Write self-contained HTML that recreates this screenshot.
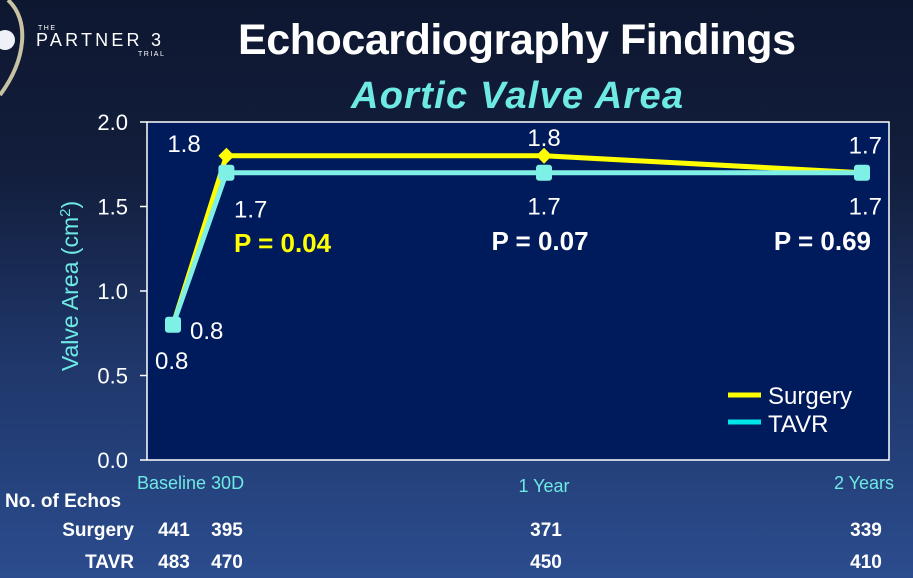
<!DOCTYPE html>
<html><head><meta charset="utf-8">
<style>
html,body{margin:0;padding:0;width:913px;height:578px;overflow:hidden;}
body{background:linear-gradient(180deg,#0e1730 0%,#121e3c 30%,#1e3567 60%,#2b4c8e 100%);font-family:"Liberation Sans",sans-serif;}
svg{position:absolute;left:0;top:0;}
</style></head>
<body>
<svg width="913" height="578">
  <g>
    <path d="M8,0 C30,20 26,60 0,95" stroke="#c8c2a4" stroke-width="4" fill="none"/>
    <circle cx="5" cy="40" r="10" fill="#eef2f8"/>
    <text x="38" y="30" fill="#fff" font-size="7" letter-spacing="1.5">THE</text>
    <text x="36" y="46" fill="#fff" font-size="18" letter-spacing="3.2">PARTNER 3</text>
    <text x="138" y="56" fill="#fff" font-size="7" letter-spacing="1.5">TRIAL</text>
  </g>
  <text x="517" y="54" text-anchor="middle" fill="#fff" font-size="43" font-weight="bold" textLength="558">Echocardiography Findings</text>
  <text x="517" y="108" text-anchor="middle" fill="#6ee9e3" font-size="38" font-weight="bold" font-style="italic" textLength="332">Aortic Valve Area</text>
  <rect x="147" y="122" width="742" height="338" fill="#001b5c" stroke="#fff" stroke-width="1.5"/>
  <g id="yaxis"></g>
  <text transform="translate(78,286) rotate(-90)" text-anchor="middle" fill="#6ee9e3" font-size="23">Valve Area (cm<tspan font-size="15" dy="-8">2</tspan><tspan dy="8">)</tspan></text>
  <g id="xlabels"></g>
  <g id="series"></g>
  <g id="labels"></g>
  <g>
    <line x1="728" y1="395" x2="761" y2="395" stroke="#ffff00" stroke-width="5"/>
    <text x="768" y="404" fill="#fff" font-size="24">Surgery</text>
    <line x1="728" y1="422" x2="761" y2="422" stroke="#00e5e8" stroke-width="5"/>
    <text x="768" y="432" fill="#fff" font-size="24">TAVR</text>
  </g>
  <g id="table" font-family="'Liberation Sans Narrow','Liberation Sans',sans-serif" font-weight="bold" fill="#fff" font-size="19"></g>
</svg>
<script>
const categories = ["Baseline","30D","1 Year","2 Years"];
const xTimes = [0, 0.155, 1.077, 2];
const surgery = [0.8, 1.8, 1.8, 1.7];
const tavr = [0.8, 1.7, 1.7, 1.7];
const yTicks = [0, 0.5, 1.0, 1.5, 2.0];
const yTickLabels = ["0.0","0.5","1.0","1.5","2.0"];
const pValues = ["P = 0.04","P  = 0.07","P = 0.69"];
const surgeryEchos = ["441","395","371","339"];
const tavrEchos = ["483","470","450","410"];
const NS="http://www.w3.org/2000/svg";
const X = t => 173 + t * 344.5;
const Y = v => 460 - v * 169;
function mk(tag, attrs, parent, txt){const e=document.createElementNS(NS,tag);for(const k in attrs)e.setAttribute(k,attrs[k]);if(txt!==undefined)e.textContent=txt;parent.appendChild(e);return e;}
const ya=document.getElementById('yaxis');
yTicks.forEach((v,i)=>{
  const l=mk('line',{x1:140,x2:147,y1:Y(v),y2:Y(v),stroke:'#fff','stroke-width':1.5},ya);
  
  
  const t=mk('text',{x:128,y:Y(v)+8,'text-anchor':'end',fill:'#fff','font-size':22},ya,yTickLabels[i]);
  
  
});
const xl=document.getElementById('xlabels');
const xlab=[["Baseline 30D",137,489,'start'],[categories[2],X(xTimes[2]),492,'middle'],[categories[3],894,489,'end']];
xlab.forEach(a=>{
  const t=mk('text',{x:a[1],y:a[2],'text-anchor':a[3],fill:'#6ee9e3','font-size':18},xl,a[0]);
  
  
});
const sg=document.getElementById('series');
function line(vals,color,name){
  const p=mk('polyline',{points:vals.map((v,i)=>X(xTimes[i])+','+Y(v)).join(' '),fill:'none',stroke:color,'stroke-width':5,'stroke-linejoin':'round'},sg);
  
  
}
line(surgery,'#ffff00','surgery');
surgery.forEach((v,i)=>{
  const x=X(xTimes[i]),y=Y(v);
  const d=mk('polygon',{points:`${x},${y-8} ${x+8},${y} ${x},${y+8} ${x-8},${y}`,fill:'#ffff00'},sg);
  
  
});
line(tavr,'#7ff0e6','tavr');
tavr.forEach((v,i)=>{
  const r=mk('rect',{x:X(xTimes[i])-8,y:Y(v)-8,width:16,height:16,rx:3,fill:'#7ff0e6'},sg);
  
  
});
const lg=document.getElementById('labels');
function lab(txt,x,y,anchor,col,bold,name){
  const t=mk('text',{x:x,y:y,'text-anchor':anchor,fill:col,'font-size':bold?26:24,'font-weight':bold?'bold':'normal'},lg,txt);
  
  
}
lab(surgery[1].toFixed(1),184,Y(surgery[1])-4,'middle','#fff',false,'surgery-30d-label');
lab(surgery[2].toFixed(1),544,Y(surgery[2])-10,'middle','#fff',false,'surgery-1y-label');
lab(surgery[3].toFixed(1),882,Y(surgery[3])-19,'end','#fff',false,'surgery-2y-label');
lab(tavr[1].toFixed(1),234,Y(tavr[1])+45,'start','#fff',false,'tavr-30d-label');
lab(tavr[2].toFixed(1),544,Y(tavr[2])+42,'middle','#fff',false,'tavr-1y-label');
lab(tavr[3].toFixed(1),882,Y(tavr[3])+42,'end','#fff',false,'tavr-2y-label');
lab(tavr[0].toFixed(1),190,Y(tavr[0])+14,'start','#fff',false,'tavr-baseline-label');
lab(surgery[0].toFixed(1),155,Y(surgery[0])+44,'start','#fff',false,'surgery-baseline-label');
lab(pValues[0],234,252,'start','#ffff00',true,'p-value-30d');
lab(pValues[1],540,250,'middle','#fff',true,'p-value-1y');
lab(pValues[2],871,250,'end','#fff',true,'p-value-2y');
const tb=document.getElementById('table');
const hdr=mk('text',{x:5,y:507},tb,'No. of Echos');
const r1=mk('text',{x:134,y:536,'text-anchor':'end'},tb,'Surgery');
const r2=mk('text',{x:134,y:568,'text-anchor':'end'},tb,'TAVR');
const colX=[174,227,546,866];
surgeryEchos.forEach((v,i)=>{const t=mk('text',{x:colX[i],y:536,'text-anchor':'middle'},tb,v);});
tavrEchos.forEach((v,i)=>{const t=mk('text',{x:colX[i],y:568,'text-anchor':'middle'},tb,v);});
</script>
</body></html>
